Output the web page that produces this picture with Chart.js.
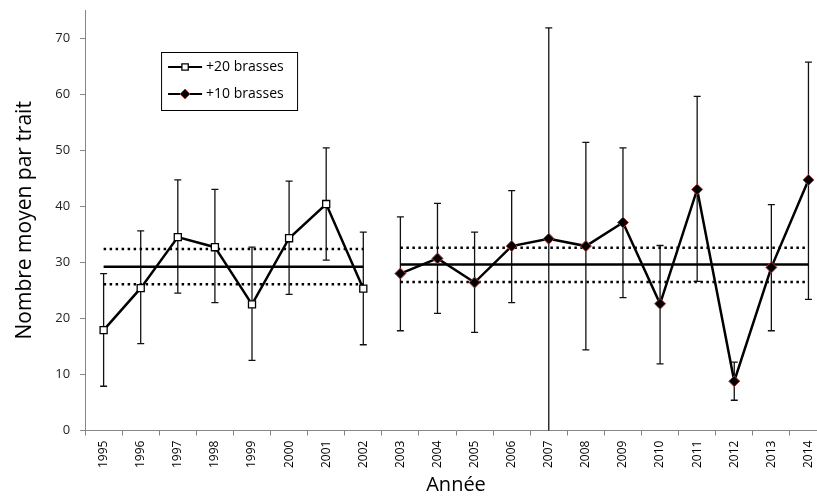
<!DOCTYPE html>
<html>
<head>
<meta charset="utf-8">
<script src="https://cdn.jsdelivr.net/npm/chart.js@4/dist/chart.umd.min.js"></script>
<style>
  html, body { margin: 0; padding: 0; background: #fff; overflow: hidden; }
  #wrap { position: relative; width: 842px; height: 497px; }
</style>
</head>
<body>
<div id="wrap"><canvas id="chart"></canvas></div>
<script>
// Years on the x axis
var years = ['1995', '1996', '1997', '1998', '1999', '2000', '2001', '2002', '2003', '2004',
             '2005', '2006', '2007', '2008', '2009', '2010', '2011', '2012', '2013', '2014'];

// +20 brasses (1995-2002) and +10 brasses (2003-2014)
var deep20 = [17.9, 25.4, 34.5, 32.7, 22.5, 34.3, 40.4, 25.3, null, null,
              null, null, null, null, null, null, null, null, null, null];
var deep10 = [null, null, null, null, null, null, null, null, 28.0, 30.7,
              26.4, 32.9, 34.2, 32.9, 37.1, 22.6, 43.0, 8.8, 29.1, 44.7];

// error bars (upper / lower ends)
var errHigh = [28.0, 35.6, 44.7, 43.0, 32.7, 44.5, 50.4, 35.4, 38.1, 40.5,
               35.4, 42.8, 71.8, 51.4, 50.4, 33.0, 59.6, 12.2, 40.3, 65.7];
var errLow  = [7.9, 15.5, 24.5, 22.8, 12.5, 24.3, 30.4, 15.3, 17.8, 20.9,
               17.5, 22.8, -3.3, 14.4, 23.7, 11.9, 26.6, 5.4, 17.8, 23.4];

// period means and their confidence limits
var mean20 = [29.2, 32.4, 26.1];   // mean, upper, lower
var mean10 = [29.6, 32.6, 26.5];

// build a flat line over the years of one period
function flat(value, from, to) {
    return years.map(function (y, i) { return (i >= from && i <= to) ? value : null; });
}

var yTicks = [0, 10, 20, 30, 40, 50, 60, 70];

var errorBars = {
    id: 'errorBars',
    beforeDatasetsDraw: function (chart) {
        var ctx = chart.ctx, area = chart.chartArea;
        var x = chart.scales.x, y = chart.scales.y;
        ctx.save();
        ctx.beginPath();
        ctx.rect(area.left, area.top, area.right - area.left, area.bottom - area.top);
        ctx.clip();
        ctx.strokeStyle = '#111';
        ctx.lineWidth = 1.3;
        for (var i = 0; i < years.length; i++) {
            var px = x.getPixelForValue(i);
            var top = y.getPixelForValue(errHigh[i]);
            var bot = y.getPixelForValue(errLow[i]);
            ctx.beginPath();
            ctx.moveTo(px, top); ctx.lineTo(px, bot);
            ctx.moveTo(px - 3.5, top); ctx.lineTo(px + 3.5, top);
            ctx.moveTo(px - 3.5, bot); ctx.lineTo(px + 3.5, bot);
            ctx.stroke();
        }
        ctx.restore();
    }
};

var boxLegend = {
    id: 'boxLegend',
    afterDraw: function (chart) {
        var ctx = chart.ctx, area = chart.chartArea;
        var bx = area.left + 76, by = area.top + 42;
        ctx.save();
        ctx.strokeStyle = '#000';
        ctx.lineWidth = 1;
        ctx.strokeRect(bx + 0.5, by + 0.5, 136, 58);
        var rows = [
            { label: '+20 brasses', ds: chart.data.datasets[0], dy: 15 },
            { label: '+10 brasses', ds: chart.data.datasets[1], dy: 42 }
        ];
        rows.forEach(function (r) {
            var cy = by + r.dy;
            ctx.strokeStyle = '#000';
            ctx.lineWidth = 2.2;
            ctx.beginPath();
            ctx.moveTo(bx + 7, cy); ctx.lineTo(bx + 41, cy);
            ctx.stroke();
            ctx.fillStyle = r.ds.pointBackgroundColor;
            ctx.strokeStyle = r.ds.pointBorderColor;
            ctx.lineWidth = r.ds.pointBorderWidth;
            Chart.helpers.drawPoint(ctx, { pointStyle: r.ds.pointStyle, radius: r.ds.pointRadius - 0.5, borderWidth: r.ds.pointBorderWidth }, bx + 24, cy);
            ctx.fillStyle = '#000';
            ctx.font = '14px "Open Sans"';
            ctx.textBaseline = 'middle';
            ctx.fillText(r.label, bx + 45, cy);
        });
        ctx.restore();
    }
};

var ctx = document.getElementById('chart').getContext('2d');
var myChart = new Chart(ctx, {
    type: 'line',
    data: {
        labels: years,
        datasets: [{
            label: '+20 brasses',
            data: deep20,
            borderColor: '#000',
            borderWidth: 2.5,
            pointStyle: 'rect',
            pointRadius: 5,
            pointBackgroundColor: '#fff',
            pointBorderColor: '#000',
            pointBorderWidth: 1.3,
            order: 1
        },
        {
            label: '+10 brasses',
            data: deep10,
            borderColor: '#000',
            borderWidth: 2.5,
            pointStyle: 'rectRot',
            pointRadius: 5.5,
            pointBackgroundColor: '#000',
            pointBorderColor: '#b0393a',
            pointBorderWidth: 1,
            order: 0
        },
        { data: flat(mean20[0], 0, 7), borderColor: '#000', borderWidth: 2.5, pointRadius: 0, order: 5 },
        { data: flat(mean20[1], 0, 7), borderColor: '#000', borderWidth: 2.5, borderDash: [2.5, 3.5], pointRadius: 0, order: 5 },
        { data: flat(mean20[2], 0, 7), borderColor: '#000', borderWidth: 2.5, borderDash: [2.5, 3.5], pointRadius: 0, order: 5 },
        { data: flat(mean10[0], 8, 19), borderColor: '#000', borderWidth: 2.5, pointRadius: 0, order: 5 },
        { data: flat(mean10[1], 8, 19), borderColor: '#000', borderWidth: 2.5, borderDash: [2.5, 3.5], pointRadius: 0, order: 5 },
        { data: flat(mean10[2], 8, 19), borderColor: '#000', borderWidth: 2.5, borderDash: [2.5, 3.5], pointRadius: 0, order: 5 }]
    },
    options: {
        responsive: true,
        maintainAspectRatio: false,
        animation: false,
        layout: { padding: { top: 10, right: 15, left: 12, bottom: 0 } },
        plugins: {
            legend: { display: false },
            tooltip: { enabled: false }
        },
        scales: {
            x: {
                offset: true,
                grid: { offset: true, drawOnChartArea: false, drawTicks: true, tickLength: 5, color: '#868686' },
                border: { color: '#868686' },
                ticks: { minRotation: 90, maxRotation: 90, color: '#000', font: { family: 'Open Sans', size: 12 }, padding: 5 },
                title: { display: true, text: 'Année', color: '#000', font: { family: 'Open Sans', size: 20 }, padding: { top: 0, bottom: 0 } }
            },
            y: {
                min: 0,
                max: 75,
                afterBuildTicks: function (scale) {
                    scale.ticks = yTicks.map(function (v) { return { value: v }; });
                },
                afterFit: function (scale) {
                    // the top tick (70) sits below the axis end, no room needed above
                    scale.paddingTop = 0;
                },
                grid: { drawOnChartArea: false, drawTicks: true, tickLength: 5, color: '#868686' },
                border: { color: '#868686' },
                ticks: { color: '#222', font: { family: 'Open Sans', size: 13 }, padding: 10 },
                title: { display: true, text: 'Nombre moyen par trait', color: '#000', font: { family: 'Open Sans', size: 21 }, padding: { top: 0, bottom: 8 } }
            }
        }
    },
    plugins: [errorBars, boxLegend]
});
</script>
</body>
</html>
